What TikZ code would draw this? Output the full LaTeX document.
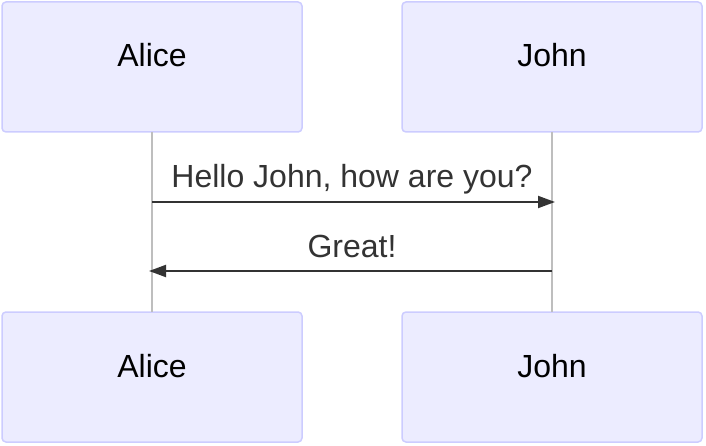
\documentclass[tikz,border=0pt]{standalone}
\usepackage{fontspec}
\setmainfont{Liberation Sans}
\usetikzlibrary{
    calc,
    arrows.meta
}
\definecolor{actorfill}{RGB}{236,236,255}
\definecolor{actorline}{RGB}{204,204,255}
\definecolor{lifeline}{RGB}{190,190,190}
\definecolor{msgcol}{RGB}{51,51,51}
\tikzset{
  actor/.style={draw=actorline,fill=actorfill,line width=1.5pt,rounded corners=4pt,
    minimum width=300pt,minimum height=130pt,inner sep=0pt,outer sep=0pt,
    text height=0pt,text depth=0pt,
    font=\fontsize{32}{36}\selectfont},
  lifeln/.style={draw=lifeline,line width=1.3pt},
  msg/.style={draw=msgcol,line width=2pt,-{Triangle[length=17pt,width=12pt]}},
  msglabel/.style={text=msgcol,font=\fontsize{32}{36}\selectfont,anchor=base,inner sep=0pt}
}
\begin{document}
\begin{tikzpicture}[x=1pt,y=-1pt]
\useasboundingbox (0,0) rectangle (706,446);

\node[actor] (aliceTop) at (152,67) {Alice};
\node[actor] (johnTop) at (552,67) {John};
\node[actor] (aliceBot) at (152,377) {Alice};
\node[actor] (johnBot) at (552,377) {John};

\draw[lifeln] (aliceTop.south) -- (aliceBot.north);
\draw[lifeln] (johnTop.south) -- (johnBot.north);

\coordinate (A1) at (152,202);
\coordinate (J1) at (555,202);
\coordinate (A2) at (149,271);
\coordinate (J2) at (552,271);

\draw[msg] (A1) -- (J1);
\node[msglabel] (hello) at (352,188) {Hello John, how are you?};

\draw[msg] (J2) -- (A2);
\node[msglabel] (great) at (352,258) {Great!};
\end{tikzpicture}
\end{document}
